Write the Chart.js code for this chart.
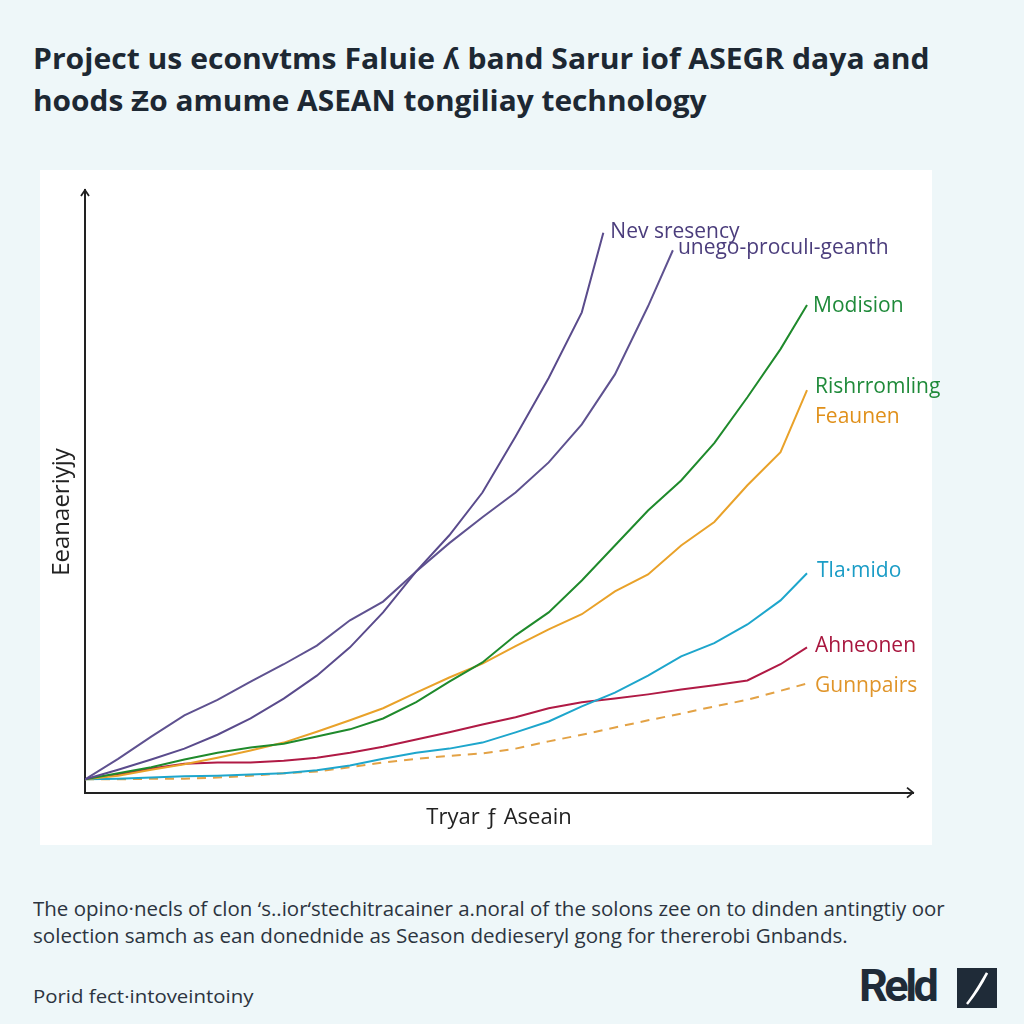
<!DOCTYPE html>
<html>
<head>
<meta charset="utf-8">
<script src="https://cdn.jsdelivr.net/npm/chart.js@4.4.0/dist/chart.umd.min.js"></script>
<style>
  html, body { margin: 0; padding: 0; }
  body { width: 1024px; height: 1024px; background: #eef7f9; position: relative; overflow: hidden; font-family: "Open Sans", Roboto, sans-serif; }
  .fit { position: absolute; left: 33px; white-space: nowrap; transform-origin: left top; line-height: 1; }
  .title { font-weight: 700; font-size: 29px; color: #1d2833; }
  .foot { font-size: 20px; color: #2c3440; }
  #panel { position: absolute; left: 40px; top: 170px; width: 892px; height: 675px; background: #ffffff; }
  #chart { position: absolute; left: 40px; top: 170px; }
  #logo { position: absolute; left: 859px; top: 963px; font-family: Roboto, sans-serif; font-weight: 700; font-size: 45px; letter-spacing: -3.5px; color: #1f2b38; line-height: 1; }
  #mark { position: absolute; left: 957px; top: 968px; width: 40px; height: 40px; background: #1f2b38; }
</style>
</head>
<body>
<div class="fit title" id="title1" data-w="897" style="top:43px">Project us econvtms Faluie ʎ band Sarur iof ASEGR daya and</div>
<div class="fit title" id="title2" data-w="673" style="top:85px">hoods Ƶo amume ASEAN tongiliay technology</div>

<div id="panel"></div>
<canvas id="chart" width="960" height="675"></canvas>

<div class="fit foot" id="foot1" data-w="912" style="top:899px">The opino·necls of clon ‘s..ior‘stechitracainer a.noral of the solons zee on to dinden antingtiy oor</div>
<div class="fit foot" id="foot2" data-w="815" style="top:926px">solection samch as ean donednide as Season dedieseryl gong for thererobi Gnbands.</div>
<div class="fit foot" id="foot3" data-w="220" style="top:987px; font-size:19px">Porid fect·intoveintoiny</div>

<div id="logo">Reld</div>
<div id="mark"><svg width="40" height="40"><path d="M30 5 C 25 15, 19 25, 10 36 C 17 28, 23 17, 30 5 Z" fill="#ffffff" stroke="#ffffff" stroke-width="2.5"/></svg></div>

<script>
// x positions (years) shared by the long series
const years = [0, 1, 2, 3, 4, 5, 6, 7, 8, 9, 10, 11, 12, 13, 14, 15, 16, 17, 18, 19, 20, 21, 21.8];
const yearsA = [0, 1, 2, 3, 4, 5, 6, 7, 8, 9, 10, 11, 12, 13, 14, 15, 16, 17, 17.75];
const yearsB = [0, 1, 2, 3, 4, 5, 6, 7, 8, 9, 10, 11, 12, 13, 14, 15, 15.65];

const newResidency = [2.2, 3.8, 5.5, 7.3, 9.6, 12.3, 15.6, 19.4, 24.1, 29.9, 36.7, 42.7, 49.8, 59.1, 68.8, 79.7, 92.9];
const unegoGrowth = [2.2, 5.6, 9.3, 12.8, 15.4, 18.4, 21.3, 24.4, 28.6, 31.7, 36.7, 41.4, 45.7, 49.8, 54.8, 61.1, 69.4, 80.7, 90.0];
const modision = [2.2, 3.2, 4.2, 5.5, 6.6, 7.5, 8.1, 9.3, 10.5, 12.3, 15.0, 18.4, 21.6, 26.1, 29.9, 35.2, 41.0, 46.8, 51.8, 58.0, 65.6, 73.6, 80.9];
const feaunen = [2.2, 2.8, 3.8, 4.7, 5.8, 7.0, 8.3, 10.1, 12.0, 14.0, 16.6, 19.1, 21.4, 24.3, 27.1, 29.6, 33.4, 36.2, 41.0, 44.9, 51.0, 56.5, 66.8];
const tlamido = [2.2, 2.3, 2.5, 2.7, 2.8, 3.0, 3.2, 3.7, 4.5, 5.6, 6.6, 7.3, 8.3, 10.0, 11.8, 14.3, 16.6, 19.4, 22.6, 24.8, 27.9, 31.9, 36.4];
const ahneonen = [2.2, 3.0, 4.0, 4.8, 5.0, 5.0, 5.3, 5.8, 6.6, 7.6, 8.8, 10.0, 11.3, 12.5, 14.0, 15.0, 15.6, 16.3, 17.1, 17.8, 18.6, 21.3, 24.1];
const gunnpairs = [2.2, 2.2, 2.3, 2.3, 2.5, 2.8, 3.2, 3.5, 4.2, 5.0, 5.6, 6.1, 6.5, 7.3, 8.5, 9.6, 10.8, 12.0, 13.1, 14.3, 15.4, 16.9, 18.1];

const xTitle = 'Tryar ƒ Aseain';
const yTitle = 'Eeanaeriyjy';

function pts(xs, ys) {
    return ys.map((v, i) => ({ x: xs[i], y: v }));
}

// fit text lines to the widths they have in the picture
document.querySelectorAll('.fit').forEach(function(el) {
    const target = parseFloat(el.dataset.w);
    el.style.transform = 'scaleX(' + (target / el.scrollWidth) + ')';
});

// text at the end of each line
const endLabels = {
    id: 'endLabels',
    afterDatasetsDraw(chart) {
        const ctx = chart.ctx;
        ctx.save();
        ctx.font = '500 21px "Open Sans", sans-serif';
        ctx.textBaseline = 'middle';
        ctx.textAlign = 'left';
        chart.data.datasets.forEach(function(ds, i) {
            const meta = chart.getDatasetMeta(i);
            const last = meta.data[meta.data.length - 1];
            (ds.tags || []).forEach(function(t) {
                ctx.fillStyle = t.color;
                ctx.fillText(t.text, last.x + t.dx, last.y + t.dy);
            });
        });
        ctx.restore();
    }
};

// arrow heads on both axes, and the y title (sits a little below centre)
const axisArrows = {
    id: 'axisArrows',
    afterDraw(chart) {
        const ctx = chart.ctx;
        const a = chart.chartArea;
        ctx.save();
        ctx.strokeStyle = '#222';
        ctx.lineWidth = 1.8;
        ctx.beginPath();
        ctx.moveTo(a.left - 4, a.top + 6);
        ctx.lineTo(a.left, a.top);
        ctx.lineTo(a.left + 4, a.top + 6);
        ctx.moveTo(a.right - 6, a.bottom - 5);
        ctx.lineTo(a.right, a.bottom);
        ctx.lineTo(a.right - 6, a.bottom + 5);
        ctx.stroke();

        ctx.translate(a.left - 23, 342);
        ctx.rotate(-Math.PI / 2);
        ctx.fillStyle = '#222';
        ctx.font = '24px "Open Sans", sans-serif';
        ctx.textAlign = 'center';
        ctx.textBaseline = 'middle';
        ctx.fillText(yTitle, 0, 0);
        ctx.restore();
    }
};

function line(label, data, color, tags, dash) {
    return {
        label: label,
        data: data,
        borderColor: color,
        borderWidth: 2,
        borderDash: dash || [],
        pointRadius: 0,
        tension: 0,
        fill: false,
        tags: tags
    };
}

const ctx = document.getElementById('chart').getContext('2d');
new Chart(ctx, {
    type: 'line',
    data: {
        datasets: [
            line('Nev sresency', pts(yearsB, newResidency), '#5a4b8c',
                [{ text: 'Nev sresency', color: '#4b3d7c', dx: 7, dy: -1 }]),
            line('unego-proculi-geanth', pts(yearsA, unegoGrowth), '#5f5290',
                [{ text: 'unego-proculı-geanth', color: '#4b3d7c', dx: 5, dy: -2 }]),
            line('Modision', pts(years, modision), '#1f8a2c',
                [{ text: 'Modision', color: '#1f8a3a', dx: 6, dy: 1 }]),
            line('Feaunen', pts(years, feaunen), '#e9a22a',
                [{ text: 'Rishrromling', color: '#1f8a3a', dx: 8, dy: -3 },
                 { text: 'Feaunen', color: '#e0901a', dx: 8, dy: 27 }]),
            line('Tla·mido', pts(years, tlamido), '#1ea6cc',
                [{ text: 'Tla·mido', color: '#1a9cc6', dx: 10, dy: -2 }]),
            line('Ahneonen', pts(years, ahneonen), '#b01a45',
                [{ text: 'Ahneonen', color: '#a8163e', dx: 8, dy: -1 }]),
            line('Gunnpairs', pts(years, gunnpairs), '#e3a245',
                [{ text: 'Gunnpairs', color: '#e0952a', dx: 8, dy: 2 }], [9, 7])
        ]
    },
    options: {
        responsive: false,
        animation: false,
        layout: { padding: { left: 45, right: 87, top: 20, bottom: 14 } },
        plugins: {
            legend: { display: false },
            tooltip: { enabled: false }
        },
        scales: {
            x: {
                type: 'linear',
                min: 0,
                max: 25,
                grid: { display: false, drawTicks: false },
                ticks: { display: false },
                border: { color: '#222', width: 2 },
                title: { display: true, text: xTitle, color: '#222', font: { family: 'Open Sans', size: 22 }, padding: { top: 12, bottom: 0 } }
            },
            y: {
                min: 0,
                max: 100,
                grid: { display: false, drawTicks: false },
                ticks: { display: false },
                border: { color: '#222', width: 2 }
            }
        }
    },
    plugins: [endLabels, axisArrows]
});
</script>
</body>
</html>
